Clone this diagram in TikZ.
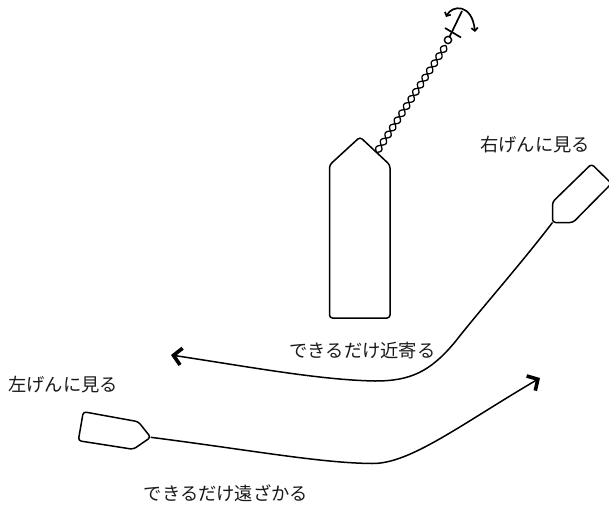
\documentclass[tikz,border=0pt]{standalone}
\usepackage{fontspec}
\newfontfamily\jpfont{Noto Sans CJK JP}
\usetikzlibrary{arrows.meta,calc}
\begin{document}
\begin{tikzpicture}[x=1pt,y=-1pt,
  hull/.style={draw=black,line width=1.5pt,rounded corners=3pt,line join=round},
  wake/.style={draw=black,line width=1.5pt},
  wakearrow/.style={wake,-{Straight Barb[length=8pt,width=17pt,line width=3.6pt]}},
  label/.style={font=\jpfont\fontsize{18.3}{20}\selectfont,text=black!90,inner sep=0pt}]
\useasboundingbox (0,0) rectangle (609,505);

% anchored ship
\coordinate (tip) at (360,137);
\coordinate (shR) at (390,165);
\draw[hull] (329.5,318) -- (329.5,165) -- (tip) -- (shR) -- (390,318) -- cycle;

% anchor chain
\coordinate (chainA) at ($(tip)!0.55!(shR)$);
\coordinate (ring) at (448,40);
\begin{scope}[shift={(chainA)},rotate=57]
  \draw[line width=1.3pt] plot[domain=0:127.5,samples=260] ({\x*1pt},{3.2pt*sin(21.18*\x)});
  \draw[line width=1.3pt] plot[domain=0:127.5,samples=260] ({\x*1pt},{-3.2pt*sin(21.18*\x)});
\end{scope}
\draw[line width=1.4pt] (ring) circle[radius=3.6];

% anchor
\coordinate (crown) at (462,11);
\draw[line width=1.7pt] ($(ring)!3.6pt!(crown)$) -- (crown);
\draw[line width=1.7pt] (445,28) -- (461,37.5);
\draw[line width=1.7pt,{Straight Barb[length=3pt,width=6.5pt]}-{Straight Barb[length=3pt,width=6.5pt]}]
  (446,17) .. controls (452,5) and (472,3) .. (475,32);

% boat on the starboard side (upper right)
\coordinate (rbow) at (552.5,222.5);
\draw[hull] (rbow) -- (552.5,202) -- (591.5,164) -- (611.5,183.5) -- (573,222.5) -- cycle;

% boat on the port side (lower left)
\coordinate (lbow) at (150.7,437.3);
\draw[hull] (83.3,411.7) -- (138.3,421.7) -- (lbow) -- (133.3,449.3) -- (78.3,440.7) -- cycle;

% courses
\coordinate (nearend) at (171,355);
\coordinate (farend) at (540,378);
\draw[wakearrow] (rbow) .. controls (520,265) and (480,310) .. (455,342)
  .. controls (430,372) and (410,381) .. (375,381)
  .. controls (320,380) and (250,367) .. (nearend);
\draw[wakearrow] (lbow) .. controls (250,450) and (320,463) .. (372,463.5)
  .. controls (410,464) and (460,425) .. (farend);

% labels
\node[label] (rlabel) at (535,144.5) {右げんに見る};
\node[label] (llabel) at (63,385) {左げんに見る};
\node[label] (near) at (362.5,350.5) {できるだけ近寄る};
\node[label] (far) at (226,493) {できるだけ遠ざかる};
\end{tikzpicture}
\end{document}
